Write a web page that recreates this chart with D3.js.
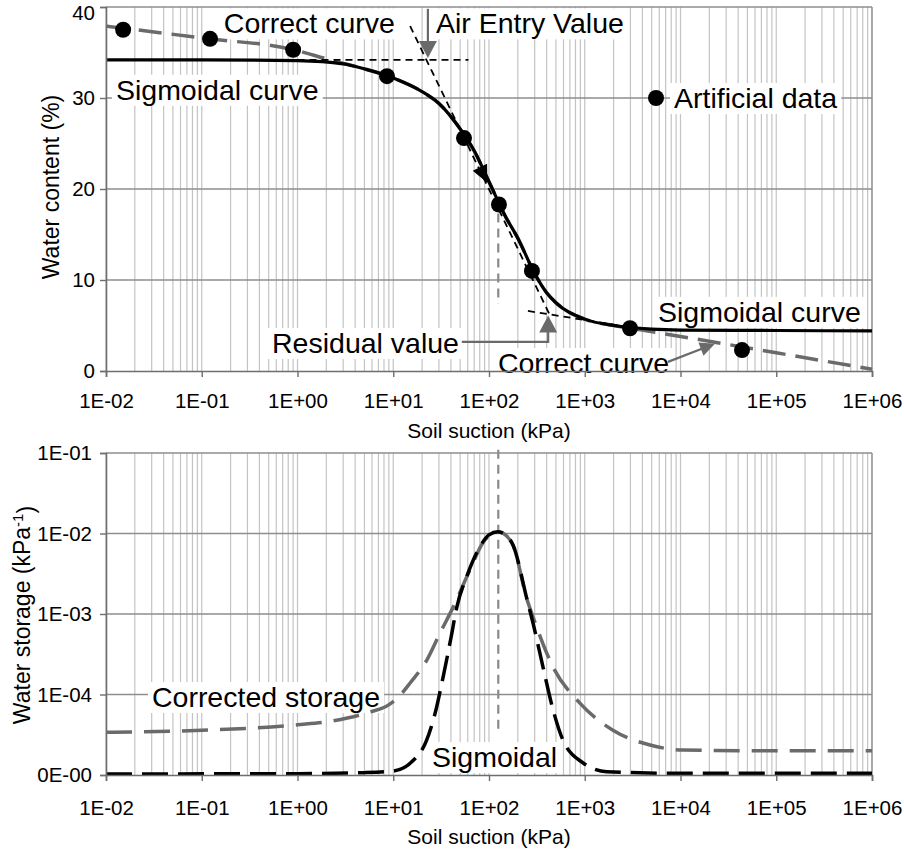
<!DOCTYPE html>
<html>
<head>
<meta charset="utf-8">
<script src="https://cdn.jsdelivr.net/npm/d3@7"></script>
<style>
body { margin: 0; background: #fff; }
text { font-family: "Liberation Sans", Arial, sans-serif; fill: #000; }
</style>
</head>
<body>
<svg id="chart" width="904" height="850"></svg>
<script>
// ---- top panel: water content vs suction ----
var pointSuction = [0.0151, 0.122, 0.90, 8.6, 54.8, 127, 281, 2970, 43900];
var pointWater = [37.5, 36.5, 35.3, 32.4, 25.6, 18.3, 11.0, 4.7, 2.3];

var sigSuction = [0.01, 0.1, 1, 3, 5, 10, 20, 30, 50, 70, 100, 150, 200, 300, 400, 500, 1000, 2000, 5000, 1e4, 1e5, 1e6];
var sigWater = [34.2, 34.2, 34.1, 33.75, 33.2, 32.2, 30.7, 29.4, 26.6, 24.2, 20.8, 16.9, 14.6, 10.7, 8.6, 7.5, 5.7, 5.0, 4.6, 4.5, 4.45, 4.4];

var corrSuction = [0.01, 0.1, 1, 2, 5, 10, 20, 30, 50, 70, 100, 150, 200, 300, 400, 500, 1000, 2000, 3000, 1e4, 1e5, 1e6];
var corrWater = [37.9, 36.6, 35.2, 34.3, 33.2, 32.2, 30.7, 29.4, 26.6, 24.2, 20.8, 16.9, 14.6, 10.7, 8.6, 7.5, 5.7, 5.0, 4.7, 3.8, 2.0, 0.2];

var steepLine = [[15, 37.9], [434, 6.1]];
var aevLine = [[1, 34.2], [61, 34.2]];
var residualLine = [[255, 6.6], [3000, 4.8]];
var steepArrowAt = [96, 20.7];
var inflectionTop = [[125, 17.3], [125, 7.4]];

var aevArrow = [[23, 39.8], [23, 34.4]];
var residualArrow = [[52, 3.2], [415, 3.2], [415, 6.1]];
var correctArrow = [[7400, 1.0], [22900, 3.0]];

var topLabels = [
  { text: "Correct curve", x: 0.17, y: 38.2 },
  { text: "Air Entry Value", x: 27.9, y: 38.2 },
  { text: "Sigmoidal curve", x: 0.0127, y: 30.9 },
  { text: "Artificial data", x: 8550, y: 30.0 },
  { text: "Sigmoidal curve", x: 5820, y: 6.5 },
  { text: "Residual value", x: 0.542, y: 3.07 },
  { text: "Correct curve", x: 124, y: 0.88 }
];
var legendPoint = [5550, 30.0];

// ---- bottom panel: water storage vs suction ----
var sigStorSuction = [0.01, 1, 5, 10, 16, 22, 27, 33, 40, 46, 59, 80, 100, 124, 150, 178, 250, 290, 366, 466, 593, 955, 1700, 1e4, 1e6];
var sigStorage = [1.03e-5, 1.04e-5, 1.07e-5, 1.12e-5, 1.5e-5, 2.6e-5, 5.5e-5, 1.6e-4, 5.0e-4, 1.2e-3, 3.0e-3, 6.8e-3, 9.6e-3, 1.05e-2, 9.5e-3, 7.2e-3, 1.5e-3, 7.5e-4, 2.2e-4, 6.5e-5, 2.7e-5, 1.42e-5, 1.1e-5, 1.05e-5, 1.05e-5];

var corStorSuction = [0.01, 0.1, 1, 2.35, 5.3, 9.2, 12, 15, 22.5, 30.8, 42, 63, 86, 124, 150, 178, 250, 290, 466, 890, 1970, 4800, 10600, 1e5, 1e6];
var corStorage = [3.4e-5, 3.6e-5, 4.2e-5, 4.7e-5, 5.9e-5, 7.6e-5, 1.0e-4, 1.39e-4, 2.7e-4, 5.8e-4, 1.2e-3, 3.5e-3, 7.6e-3, 1.05e-2, 9.5e-3, 7.2e-3, 1.5e-3, 9.0e-4, 2.2e-4, 7.8e-5, 3.6e-5, 2.36e-5, 2.04e-5, 2.0e-5, 2.0e-5];

var inflectionBottom = [[125, 0.11], [125, 3.3e-5]];
var bottomLabels = [
  { text: "Corrected storage", x: 0.0302, y: 9.3e-5 },
  { text: "Sigmoidal", x: 25.4, y: 1.67e-5 }
];

var xDecades = [1e-2, 1e-1, 1e0, 1e1, 1e2, 1e3, 1e4, 1e5, 1e6];
var yTopTicks = [0, 10, 20, 30, 40];
var yBotTicks = [1e-5, 1e-4, 1e-3, 1e-2, 1e-1];
var yBotTickLabels = ["0E-00", "1E-04", "1E-03", "1E-02", "1E-01"];

// ---- scales ----
var svg = d3.select("#chart");
var x = d3.scaleLog().domain([1e-2, 1e6]).range([106, 872]);
var yTop = d3.scaleLinear().domain([0, 40]).range([371, 7]);
var yBot = d3.scaleLog().domain([1e-5, 1e-1]).range([775, 453]);

var GRAY = "#6a6a6a";
var ANN = 28.5;

function expLabel(v) {
  var e = Math.round(Math.log10(v));
  var s = Math.abs(e) < 10 ? "0" + Math.abs(e) : "" + Math.abs(e);
  return "1E" + (e < 0 ? "-" : "+") + s;
}

var minorX = [];
for (var d = -2; d < 6; d++) {
  for (var m = 1; m < 10; m++) minorX.push(m * Math.pow(10, d));
}
minorX.push(1e6);

function drawPanel(yScale, yGrid) {
  var p = {};
  p.grid = svg.append("g");
  p.bg = svg.append("g");
  p.marks = svg.append("g");
  p.labels = svg.append("g");
  p.axes = svg.append("g");
  var y0 = yScale.range()[0], y1 = yScale.range()[1];

  p.grid.selectAll("line.v")
    .data(minorX)
    .enter().append("line")
    .attr("x1", function(d) { return x(d); })
    .attr("x2", function(d) { return x(d); })
    .attr("y1", y0).attr("y2", y1)
    .attr("stroke", "#c4c4c4").attr("stroke-width", 1.2);

  p.grid.selectAll("line.h")
    .data(yGrid)
    .enter().append("line")
    .attr("x1", x.range()[0]).attr("x2", x.range()[1])
    .attr("y1", function(d) { return yScale(d); })
    .attr("y2", function(d) { return yScale(d); })
    .attr("stroke", "#8e8e8e").attr("stroke-width", 1.3);
  return p;
}

function label(p, lab, yScale) {
  var t = p.labels.append("text")
    .attr("x", x(lab.x))
    .attr("y", yScale(lab.y))
    .attr("dy", "0.35em")
    .attr("font-size", ANN)
    .text(lab.text);
  var b = t.node().getBBox();
  p.bg.append("rect")
    .attr("x", b.x - 4).attr("y", b.y + 1)
    .attr("width", b.width + 8).attr("height", b.height - 1)
    .attr("fill", "#fff");
}

function arrow(g, pts, color, len, half) {
  var line = d3.line();
  g.append("path")
    .attr("d", line(pts.slice(0, -1).concat([shorten(pts, len)])))
    .attr("fill", "none")
    .attr("stroke", color)
    .attr("stroke-width", 2.2);
  head(g, pts[pts.length - 2], pts[pts.length - 1], color, len, half);
}

function shorten(pts, len) {
  var a = pts[pts.length - 2], b = pts[pts.length - 1];
  var dx = b[0] - a[0], dy = b[1] - a[1];
  var l = Math.sqrt(dx * dx + dy * dy);
  return [b[0] - dx / l * len * 0.8, b[1] - dy / l * len * 0.8];
}

function head(g, a, b, color, len, half) {
  var dx = b[0] - a[0], dy = b[1] - a[1];
  var l = Math.sqrt(dx * dx + dy * dy);
  var ux = dx / l, uy = dy / l;
  var bx = b[0] - ux * len, by = b[1] - uy * len;
  g.append("path")
    .attr("d", "M" + b[0] + "," + b[1] +
      " L" + (bx - uy * half) + "," + (by + ux * half) +
      " L" + (bx + uy * half) + "," + (by - ux * half) + " Z")
    .attr("fill", color);
}

function axes(p, yScale, yTicks, yFmt, yPad, xPad) {
  var y0 = yScale.range()[0], y1 = yScale.range()[1];
  // frame: top and right in gray
  p.grid.append("line").attr("x1", x.range()[0]).attr("x2", x.range()[1])
    .attr("y1", y1).attr("y2", y1).attr("stroke", "#8e8e8e").attr("stroke-width", 1.3);
  p.grid.append("line").attr("x1", x.range()[1]).attr("x2", x.range()[1])
    .attr("y1", y0).attr("y2", y1).attr("stroke", "#8e8e8e").attr("stroke-width", 1.3);

  var ax = p.axes.append("g").attr("transform", "translate(0," + y0 + ")")
    .call(d3.axisBottom(x).tickValues(xDecades).tickFormat(expLabel).tickSize(6).tickPadding(xPad));
  var ay = p.axes.append("g").attr("transform", "translate(" + x.range()[0] + ",0)")
    .call(d3.axisLeft(yScale).tickValues(yTicks).tickFormat(yFmt).tickSize(6).tickPadding(yPad));
  [ax, ay].forEach(function(a) {
    a.selectAll("path.domain").attr("stroke", "#6e6e6e").attr("stroke-width", 1.6);
    a.selectAll(".tick line").attr("stroke", "#6e6e6e").attr("stroke-width", 1.4);
    a.selectAll(".tick text").attr("font-size", 20.5)
      .attr("font-family", "'Liberation Sans', Arial, sans-serif").attr("fill", "#000");
  });
  return ay;
}

function px(pts, yScale) {
  return pts.map(function(d) { return [x(d[0]), yScale(d[1])]; });
}

// ================= TOP PANEL =================
var topP = drawPanel(yTop, [10, 20, 30]);
var topY = axes(topP, yTop, yTopTicks, function(d) { return d; }, 5, 16);
// keep the top label inside the picture
topY.selectAll(".tick text").filter(function(d) { return d === 40; }).attr("y", 6);

topLabels.forEach(function(l) { label(topP, l, yTop); });

var lineTop = d3.line()
  .x(function(d) { return x(d[0]); })
  .y(function(d) { return yTop(d[1]); })
  .curve(d3.curveMonotoneX);

topP.marks.append("path")
  .datum(d3.zip(corrSuction, corrWater))
  .attr("d", lineTop)
  .attr("fill", "none").attr("stroke", GRAY)
  .attr("stroke-width", 3.5).attr("stroke-dasharray", "23,10");

var straight = d3.line()
  .x(function(d) { return x(d[0]); })
  .y(function(d) { return yTop(d[1]); });

[steepLine, aevLine, residualLine].forEach(function(l) {
  topP.marks.append("path").datum(l).attr("d", straight)
    .attr("fill", "none").attr("stroke", "#000")
    .attr("stroke-width", 1.8).attr("stroke-dasharray", "7,5");
});

topP.marks.append("path").datum(inflectionTop).attr("d", straight)
  .attr("fill", "none").attr("stroke", "#8a8a8a")
  .attr("stroke-width", 2.2).attr("stroke-dasharray", "9,6");

topP.marks.append("path")
  .datum(d3.zip(sigSuction, sigWater))
  .attr("d", lineTop)
  .attr("fill", "none").attr("stroke", "#000").attr("stroke-width", 3.2);

// arrowhead on the steep tangent
var sa = [x(steepLine[0][0]), yTop(steepLine[0][1])];
var sb = [x(steepLine[1][0]), yTop(steepLine[1][1])];
var sp = [x(steepArrowAt[0]), yTop(steepArrowAt[1])];
head(topP.marks, [sp[0] - (sb[0] - sa[0]) * 0.1, sp[1] - (sb[1] - sa[1]) * 0.1], sp, "#000", 17, 8);

topP.marks.selectAll("circle.pt")
  .data(d3.zip(pointSuction, pointWater))
  .enter().append("circle")
  .attr("cx", function(d) { return x(d[0]); })
  .attr("cy", function(d) { return yTop(d[1]); })
  .attr("r", 8).attr("fill", "#000");

topP.marks.append("circle")
  .attr("cx", x(legendPoint[0])).attr("cy", yTop(legendPoint[1]))
  .attr("r", 8).attr("fill", "#000");

arrow(topP.marks, px(aevArrow, yTop), GRAY, 17, 9);
arrow(topP.marks, px(residualArrow, yTop), GRAY, 17, 9);
arrow(topP.marks, px(correctArrow, yTop), GRAY, 15, 7);

svg.append("text").attr("x", 489).attr("y", 431).attr("dy", "0.35em")
  .attr("text-anchor", "middle").attr("font-size", 21).text("Soil suction (kPa)");
svg.append("text").attr("transform", "translate(51,187) rotate(-90)").attr("dy", "0.35em")
  .attr("text-anchor", "middle").attr("font-size", 23).text("Water content (%)");

// ================= BOTTOM PANEL =================
var botP = drawPanel(yBot, [1e-4, 1e-3, 1e-2]);
axes(botP, yBot, yBotTicks, function(d, i) { return yBotTickLabels[i]; }, 8, 19);

bottomLabels.forEach(function(l) { label(botP, l, yBot); });

var lineBot = d3.line()
  .x(function(d) { return x(d[0]); })
  .y(function(d) { return yBot(d[1]); })
  .curve(d3.curveMonotoneX);

botP.marks.append("path")
  .datum(inflectionBottom)
  .attr("d", d3.line().x(function(d) { return x(d[0]); }).y(function(d) { return yBot(d[1]); }))
  .attr("fill", "none").attr("stroke", "#8a8a8a")
  .attr("stroke-width", 2.2).attr("stroke-dasharray", "9,6");

botP.marks.append("path")
  .datum(d3.zip(corStorSuction, corStorage))
  .attr("d", lineBot)
  .attr("fill", "none").attr("stroke", GRAY)
  .attr("stroke-width", 3.5).attr("stroke-dasharray", "26,12");

botP.marks.append("path")
  .datum(d3.zip(sigStorSuction, sigStorage))
  .attr("d", lineBot)
  .attr("fill", "none").attr("stroke", "#000")
  .attr("stroke-width", 3.5).attr("stroke-dasharray", "26,10");

svg.append("text").attr("x", 489).attr("y", 837).attr("dy", "0.35em")
  .attr("text-anchor", "middle").attr("font-size", 21).text("Soil suction (kPa)");
var yt = svg.append("text").attr("transform", "translate(22,615) rotate(-90)").attr("dy", "0.35em")
  .attr("text-anchor", "middle").attr("font-size", 23);
yt.append("tspan").text("Water storage (kPa");
yt.append("tspan").attr("dy", "-0.5em").attr("font-size", 15).text("-1");
yt.append("tspan").attr("dy", "0.5em").text(")");
</script>
</body>
</html>
